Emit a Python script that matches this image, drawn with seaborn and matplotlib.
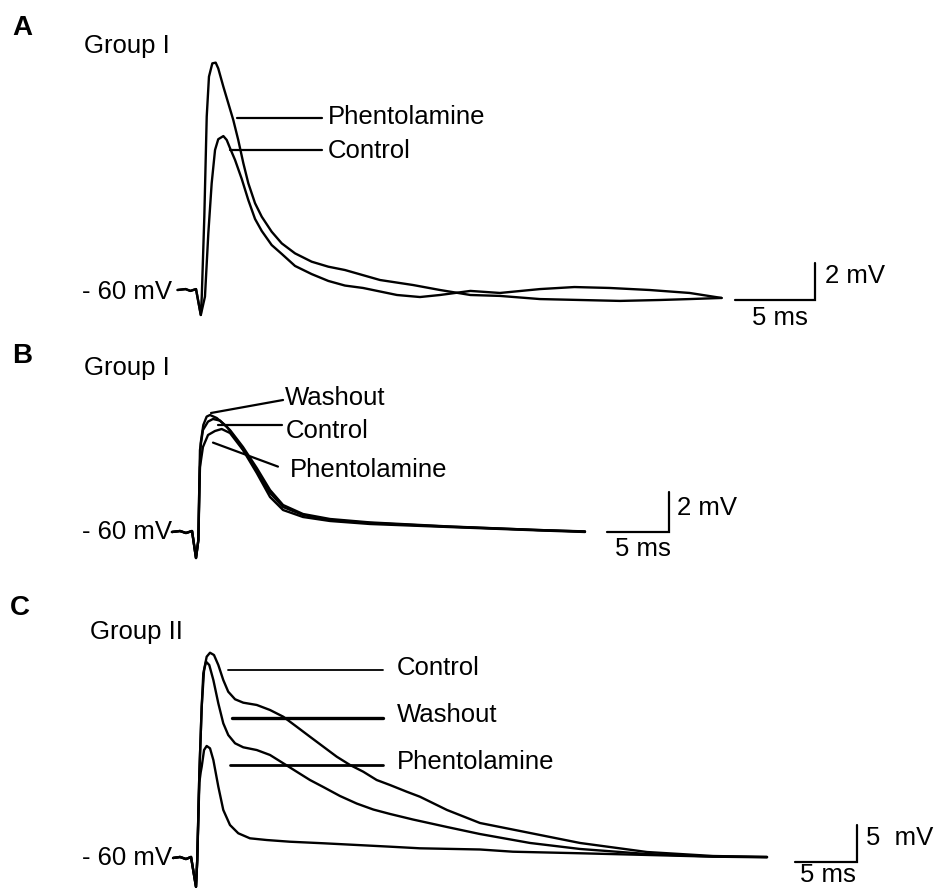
import numpy as np
import pandas as pd
import matplotlib
matplotlib.use("Agg")
import matplotlib.pyplot as plt
import seaborn as sns

# ---------------- data (time in ms from stimulus, voltage in mV above -60 mV) ----------------
# Panel A  (Group I)
a_phen_t = [-1.4, -0.9, -0.6, -0.25, 0.05, 0.11, 0.27, 0.42, 0.56, 0.77, 0.98, 1.14, 1.46, 1.77, 2.08,
            2.39, 2.71, 3.02, 3.44, 3.86, 4.48, 5.11, 5.94, 6.98, 8.02, 9.06, 11.25, 13.31, 15.0,
            16.9, 18.75, 21.25, 23.75, 26.25, 28.75, 30.6, 32.6]
a_phen_v = [0.0, 0.05, -0.05, 0.05, -1.35, -0.36, 3.96, 9.37, 11.53, 12.25, 12.29, 11.98, 10.99, 10.09,
            9.19, 8.11, 6.85, 5.77, 4.69, 3.96, 3.15, 2.52, 1.98, 1.53, 1.26, 1.08, 0.54, 0.27, 0.0,
            -0.27, -0.32, -0.49, -0.54, -0.59, -0.54, -0.49, -0.43]
a_ctrl_t = [-1.4, -0.9, -0.6, -0.25, 0.05, 0.31, 0.52, 0.73, 0.94, 1.14, 1.46, 1.67, 1.88, 2.19, 2.61,
            3.02, 3.44, 3.86, 4.48, 5.11, 5.94, 6.98, 8.02, 9.06, 10.19, 12.31, 13.75, 15.0, 16.9,
            18.75, 21.25, 23.4, 25.6, 28.1, 30.6, 32.6]
a_ctrl_v = [0.0, 0.05, -0.05, 0.05, -1.35, -0.36, 3.06, 5.77, 7.57, 8.15, 8.32, 8.11, 7.66, 7.03, 6.0,
            4.86, 3.84, 3.19, 2.43, 1.95, 1.3, 0.86, 0.49, 0.24, 0.11, -0.27, -0.38, -0.27, -0.05,
            -0.16, 0.05, 0.16, 0.11, 0.0, -0.16, -0.43]

# Panel B  (Group I)
b_wash_t = [-1.94, -1.29, -0.81, -0.32, 0.0, 0.19, 0.27, 0.38, 0.59, 0.86, 1.13, 1.67, 2.48, 3.28, 4.35,
            5.16, 5.97, 7.02, 8.63, 10.81, 14.03, 20.32, 27.58, 31.37]
b_wash_v = [0.0, 0.05, -0.05, 0.05, -1.3, -0.4, 2.45, 4.45, 5.35, 5.77, 5.85, 5.7, 5.27, 4.6, 3.6,
            2.77, 1.95, 1.25, 0.85, 0.6, 0.45, 0.27, 0.1, 0.02]
b_ctrl_t = [-1.94, -1.29, -0.81, -0.32, 0.0, 0.19, 0.32, 0.56, 0.97, 1.37, 1.94, 2.74, 3.79, 4.9, 5.97,
            7.02, 8.63, 10.81, 14.03, 20.32, 27.58, 31.37]
b_ctrl_v = [0.0, 0.05, -0.05, 0.05, -1.3, -0.4, 4.1, 5.1, 5.52, 5.65, 5.57, 5.1, 4.25, 3.2, 2.1,
            1.35, 0.9, 0.65, 0.48, 0.28, 0.1, 0.03]
b_phen_t = [-1.94, -1.29, -0.81, -0.32, 0.0, 0.19, 0.32, 0.56, 0.97, 1.53, 2.07, 2.74, 3.79, 4.9, 5.97,
            7.02, 8.63, 10.81, 14.03, 20.32, 27.58, 31.37]
b_phen_v = [0.0, 0.05, -0.05, 0.05, -1.3, -0.4, 3.25, 4.25, 4.85, 5.05, 5.15, 4.95, 4.1, 2.95, 1.75,
            1.1, 0.75, 0.55, 0.4, 0.25, 0.08, 0.0]

# Panel C  (Group II)
c_ctrl_t = [-1.85, -1.29, -0.81, -0.4, 0.0, 0.1, 0.27, 0.46, 0.65, 0.86, 1.13, 1.45, 1.8, 2.2, 2.6,
            3.15, 3.81, 4.9, 5.97, 7.04, 8.12, 9.19, 10.27, 11.35, 12.42, 13.49, 14.57, 15.65, 16.99,
            18.06, 20.24, 22.9, 26.94, 30.97, 36.37, 41.69, 46.05]
c_ctrl_v = [0.0, 0.14, -0.14, 0.14, -3.9, -0.27, 11.45, 20.45, 25.41, 27.2, 27.74, 27.43, 26.08, 24.05,
            22.47, 21.45, 20.99, 20.68, 20.0, 19.09, 17.74, 16.39, 15.04, 13.69, 12.57, 11.66, 10.54,
            9.86, 8.96, 8.28, 6.49, 4.73, 3.38, 2.03, 0.81, 0.27, 0.14]
c_wash_t = [-1.85, -1.29, -0.81, -0.4, 0.0, 0.1, 0.27, 0.46, 0.59, 0.81, 1.07, 1.4, 1.8, 2.2, 2.6,
            3.15, 3.81, 4.9, 5.97, 7.04, 8.12, 9.19, 10.27, 11.61, 12.96, 14.3, 15.65, 17.5, 20.24,
            22.9, 26.94, 30.97, 36.37, 41.69, 46.05]
c_wash_v = [0.0, 0.14, -0.14, 0.14, -3.9, -0.27, 11.45, 20.45, 24.96, 26.53, 26.08, 24.05, 20.9, 18.2,
            16.62, 15.5, 14.96, 14.59, 13.92, 12.8, 11.66, 10.54, 9.59, 8.38, 7.36, 6.55, 5.95, 5.2,
            4.19, 3.24, 2.03, 1.22, 0.54, 0.2, 0.14]
c_phen_t = [-1.85, -1.29, -0.81, -0.4, 0.0, 0.1, 0.27, 0.38, 0.46, 0.65, 0.86, 1.13, 1.4, 1.8, 2.2,
            2.74, 3.41, 4.35, 5.7, 7.58, 10.27, 12.96, 15.65, 18.06, 22.9, 25.56, 30.97, 36.37, 41.69,
            46.05]
c_phen_v = [0.0, 0.14, -0.14, 0.14, -3.9, -0.27, 10.2, 11.6, 12.34, 14.59, 15.14, 14.82, 13.24, 9.64,
            6.49, 4.46, 3.34, 2.66, 2.43, 2.2, 1.99, 1.76, 1.53, 1.31, 1.15, 0.85, 0.64, 0.41, 0.18,
            0.09]

scale_ms = 5
scale_mv_ab = 2
scale_mv_c = 5


def frame(name, t, v):
    return pd.DataFrame({"t": t, "v": v, "trace": name})


dfA = pd.concat([frame("Phentolamine", a_phen_t, a_phen_v), frame("Control", a_ctrl_t, a_ctrl_v)])
dfB = pd.concat([frame("Washout", b_wash_t, b_wash_v), frame("Control", b_ctrl_t, b_ctrl_v),
                 frame("Phentolamine", b_phen_t, b_phen_v)])
dfC = pd.concat([frame("Control", c_ctrl_t, c_ctrl_v), frame("Washout", c_wash_t, c_wash_v),
                 frame("Phentolamine", c_phen_t, c_phen_v)])

# ---------------- figure ----------------
sns.set_theme(style="white")
plt.rcParams["font.family"] = ["Liberation Sans", "DejaVu Sans"]
plt.rcParams["text.color"] = "black"

W, H = 938, 888
fig = plt.figure(figsize=(W / 100, H / 100), dpi=100)
FS = 18.5
LW = 1.7


def make_axes(x0, sx, y0, sy):
    ax = fig.add_axes([0, 0, 1, 1])
    ax.set_facecolor("none")
    ax.set_xlim(-x0 / sx, (W - x0) / sx)
    ax.set_ylim((y0 - H) / sy, y0 / sy)
    ax.axis("off")
    return ax


def ftext(x, y, s, **kw):
    fig.text(x / W, 1 - y / H, s, color="black", **kw)


def draw(ax, df):
    sns.lineplot(data=df, x="t", y="v", units="trace", estimator=None, sort=False,
                 color="black", lw=LW, ax=ax, legend=False)


def scalebar(ax, t0, v0, mv, xlabel_pos, ylabel_pos, ylabel):
    ax.plot([t0, t0 + scale_ms, t0 + scale_ms], [v0, v0, v0 + mv], color="black", lw=1.6,
            solid_joinstyle="miter")
    ftext(*xlabel_pos, f"{scale_ms} ms", ha="center", va="center", fontsize=FS)
    ftext(*ylabel_pos, ylabel, ha="left", va="center", fontsize=FS)


def label(ax, t1, v1, t2, v2, tx, tv, s, lw=1.6):
    ax.plot([t1, t2], [v1, v2], color="black", lw=lw)
    ax.text(tx, tv, s, ha="left", va="center", fontsize=FS, color="black")


# Panel A
axA = make_axes(200, 16, 290, 18.5)
draw(axA, dfA)
scalebar(axA, 33.44, -0.54, scale_mv_ab, (780, 318), (825, 276), "2 mV")
label(axA, 2.31, 9.3, 7.63, 9.3, 8.0, 9.35, "Phentolamine")
label(axA, 1.88, 7.57, 7.63, 7.57, 8.0, 7.5, "Control")
axA.text(-1.75, -0.1, "- 60 mV", ha="right", va="center", fontsize=FS, color="black")
ftext(12, 28, "A", fontsize=20, fontweight="bold", ha="left", va="center")
ftext(84, 46, "Group I", fontsize=FS, ha="left", va="center")

# Panel B
axB = make_axes(196, 12.4, 532, 20)
draw(axB, dfB)
scalebar(axB, 33.17, 0.0, scale_mv_ab, (643, 549), (677, 508), "2 mV")
label(axB, 1.21, 5.95, 7.02, 6.6, 7.18, 6.7, "Washout")
label(axB, 1.77, 5.35, 6.94, 5.35, 7.26, 5.05, "Control")
label(axB, 1.37, 4.47, 6.61, 3.27, 7.58, 3.1, "Phentolamine")
axB.text(-1.94, 0.0, "- 60 mV", ha="right", va="center", fontsize=FS, color="black")
ftext(12, 356, "B", fontsize=20, fontweight="bold", ha="left", va="center")
ftext(84, 368, "Group I", fontsize=FS, ha="left", va="center")

# Panel C
axC = make_axes(196, 12.4, 858, 7.4)
draw(axC, dfC)
scalebar(axC, 48.31, -0.5, scale_mv_c, (828, 875), (866, 838), "5  mV")
label(axC, 2.6, 25.41, 15.08, 25.41, 16.2, 25.68, "Control", lw=1.3)
label(axC, 2.88, 18.96, 15.08, 18.96, 16.2, 19.32, "Washout", lw=2.4)
label(axC, 2.74, 12.57, 15.08, 12.57, 16.2, 12.97, "Phentolamine", lw=2.0)
axC.text(-1.94, 0.0, "- 60 mV", ha="right", va="center", fontsize=FS, color="black")
ftext(10, 608, "C", fontsize=20, fontweight="bold", ha="left", va="center")
ftext(90, 632, "Group II", fontsize=FS, ha="left", va="center")

fig.savefig("out.png", dpi=100, facecolor="white")
